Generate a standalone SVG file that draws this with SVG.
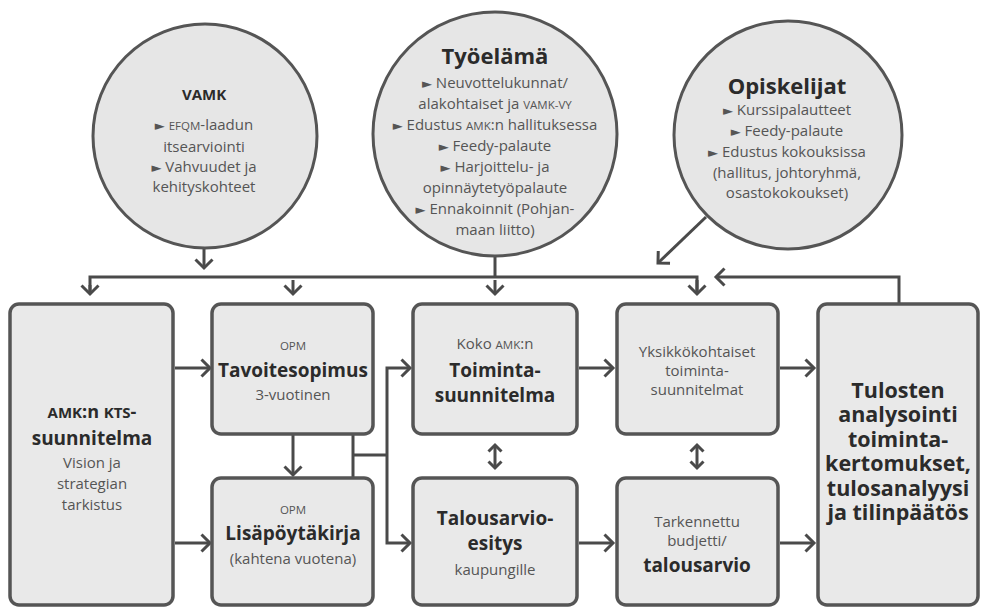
<svg xmlns="http://www.w3.org/2000/svg" width="981" height="608" viewBox="0 0 981 608">
<style>
.bg{fill:#ffffff}
.circ{fill:#e6e6e6;stroke:#555555;stroke-width:3}
.box{fill:#e9e9e9;stroke:#555555;stroke-width:3.5}
.con{fill:none;stroke:#4a4a4a;stroke-width:3}
text{font-family:"Open Sans","Noto Sans","DejaVu Sans",sans-serif;text-anchor:middle}
.h{font-weight:bold;fill:#2b2b2b;font-size:19px}
.hb{font-weight:bold;fill:#2b2b2b;font-size:21.5px}
.t{fill:#555555;font-size:15px}
.sc{font-size:11.5px}
.tri{font-size:13px}
</style>
<defs>
<marker id="arr" markerUnits="userSpaceOnUse" markerWidth="24" markerHeight="24" viewBox="-12 -12 24 24" refX="0" refY="0" orient="auto">
<path d="M-8.5,-8.5 L0,0 L-8.5,8.5" fill="none" stroke="#4a4a4a" stroke-width="3"/>
</marker>
<marker id="arrS" markerUnits="userSpaceOnUse" markerWidth="20" markerHeight="20" viewBox="-10 -10 20 20" refX="0" refY="0" orient="auto-start-reverse">
<path d="M-6.5,-6.5 L0,0 L-6.5,6.5" fill="none" stroke="#4a4a4a" stroke-width="3"/>
</marker>
</defs>
<rect class="bg" x="0" y="0" width="981" height="608"/>

<g id="connectors">
<path class="con" d="M204,248 L204,268" marker-end="url(#arr)"/>
<path class="con" d="M495,256 L495,277"/>
<path class="con" d="M90,293 L90,277 L697,277 L697,293"/>
<path class="con" d="M90,285 L90,294" marker-end="url(#arr)"/>
<path class="con" d="M293,280 L293,294" marker-end="url(#arr)"/>
<path class="con" d="M495,280 L495,294" marker-end="url(#arr)"/>
<path class="con" d="M697,280 L697,294" marker-end="url(#arr)"/>
<path class="con" d="M706,217 L658,263" marker-end="url(#arr)"/>
<path class="con" d="M899,303 L899,277 L716,277" marker-end="url(#arr)"/>
<path class="con" d="M175,368 L210,368" marker-end="url(#arr)"/>
<path class="con" d="M175,543 L210,543" marker-end="url(#arr)"/>
<path class="con" d="M293,435 L293,475" marker-end="url(#arr)"/>
<path class="con" d="M353,435 L353,477 M353,455 L387,455"/>
<path class="con" d="M387,455 L387,368 L410,368" marker-end="url(#arr)"/>
<path class="con" d="M387,455 L387,543 L410,543" marker-end="url(#arr)"/>
<path class="con" d="M579,368 L613,368" marker-end="url(#arr)"/>
<path class="con" d="M579,543 L613,543" marker-end="url(#arr)"/>
<path class="con" d="M780,368 L814,368" marker-end="url(#arr)"/>
<path class="con" d="M780,543 L814,543" marker-end="url(#arr)"/>
<path class="con" d="M495,445 L495,468" marker-start="url(#arrS)" marker-end="url(#arrS)"/>
<path class="con" d="M697,445 L697,468" marker-start="url(#arrS)" marker-end="url(#arrS)"/>
</g>

<g id="vamk">
<circle class="circ" cx="205" cy="136" r="112"/>
<text class="h" x="204" y="100" style="font-size:15px">VAMK</text>
<text class="t" x="204" y="130"><tspan class="tri">►</tspan> <tspan class="sc">EFQM</tspan>-laadun</text>
<text class="t" x="204" y="152">itsearviointi</text>
<text class="t" x="204" y="172"><tspan class="tri">►</tspan> Vahvuudet ja</text>
<text class="t" x="204" y="192">kehityskohteet</text>
</g>

<g id="tyoelama">
<circle class="circ" cx="495" cy="134" r="122"/>
<text class="hb" x="495" y="64" style="font-size:22px">Työelämä</text>
<text class="t" x="495" y="88"><tspan class="tri">►</tspan> Neuvottelukunnat/</text>
<text class="t" x="495" y="109">alakohtaiset ja <tspan class="sc">VAMK-VY</tspan></text>
<text class="t" x="495" y="130"><tspan class="tri">►</tspan> Edustus <tspan class="sc">AMK</tspan>:n hallituksessa</text>
<text class="t" x="495" y="151"><tspan class="tri">►</tspan> Feedy-palaute</text>
<text class="t" x="495" y="172"><tspan class="tri">►</tspan> Harjoittelu- ja</text>
<text class="t" x="495" y="193">opinnäytetyöpalaute</text>
<text class="t" x="495" y="214"><tspan class="tri">►</tspan> Ennakoinnit (Pohjan-</text>
<text class="t" x="495" y="235">maan liitto)</text>
</g>

<g id="opiskelijat">
<circle class="circ" cx="788" cy="135" r="114"/>
<text class="hb" x="787" y="94" style="font-size:22px">Opiskelijat</text>
<text class="t" x="787" y="115"><tspan class="tri">►</tspan> Kurssipalautteet</text>
<text class="t" x="787" y="136"><tspan class="tri">►</tspan> Feedy-palaute</text>
<text class="t" x="787" y="157"><tspan class="tri">►</tspan> Edustus kokouksissa</text>
<text class="t" x="787" y="178">(hallitus, johtoryhmä,</text>
<text class="t" x="787" y="198">osastokokoukset)</text>
</g>

<g id="kts">
<rect class="box" x="10" y="304" width="163" height="301" rx="9"/>
<text class="h" x="92" y="418" style="font-size:18px"><tspan style="font-size:15px">AMK</tspan>:n <tspan style="font-size:15px">KTS</tspan>-</text>
<text class="h" x="92" y="445">suunnitelma</text>
<text class="t" x="92" y="468">Vision ja</text>
<text class="t" x="92" y="489">strategian</text>
<text class="t" x="92" y="510">tarkistus</text>
</g>

<g id="tavoitesopimus">
<rect class="box" x="212" y="304" width="161" height="130" rx="9"/>
<text class="t sc" x="293" y="350">OPM</text>
<text class="h" x="293" y="377">Tavoitesopimus</text>
<text class="t" x="293" y="400">3-vuotinen</text>
</g>

<g id="lisapoytakirja">
<rect class="box" x="212" y="478" width="161" height="127" rx="9"/>
<text class="t sc" x="293" y="514">OPM</text>
<text class="h" x="293" y="540">Lisäpöytäkirja</text>
<text class="t" x="293" y="564">(kahtena vuotena)</text>
</g>

<g id="toimintasuunnitelma">
<rect class="box" x="413" y="304" width="164" height="130" rx="9"/>
<text class="t" x="495" y="349">Koko <tspan class="sc">AMK</tspan>:n</text>
<text class="h" x="495" y="377">Toiminta-</text>
<text class="h" x="495" y="402">suunnitelma</text>
</g>

<g id="talousarvioesitys">
<rect class="box" x="413" y="478" width="164" height="127" rx="9"/>
<text class="h" x="495" y="525">Talousarvio-</text>
<text class="h" x="495" y="550">esitys</text>
<text class="t" x="495" y="575">kaupungille</text>
</g>

<g id="yksikko">
<rect class="box" x="617" y="304" width="161" height="130" rx="9"/>
<text class="t" x="697" y="357">Yksikkökohtaiset</text>
<text class="t" x="697" y="376">toiminta-</text>
<text class="t" x="697" y="395">suunnitelmat</text>
</g>

<g id="tarkennettu">
<rect class="box" x="617" y="478" width="161" height="127" rx="9"/>
<text class="t" x="697" y="527">Tarkennettu</text>
<text class="t" x="697" y="546">budjetti/</text>
<text class="h" x="697" y="572">talousarvio</text>
</g>

<g id="tulosten">
<rect class="box" x="818" y="304" width="160" height="301" rx="9"/>
<text class="hb" x="898" y="398">Tulosten</text>
<text class="hb" x="898" y="422">analysointi</text>
<text class="hb" x="898" y="447">toiminta-</text>
<text class="hb" x="898" y="471">kertomukset,</text>
<text class="hb" x="898" y="496">tulosanalyysi</text>
<text class="hb" x="898" y="520">ja tilinpäätös</text>
</g>
</svg>
